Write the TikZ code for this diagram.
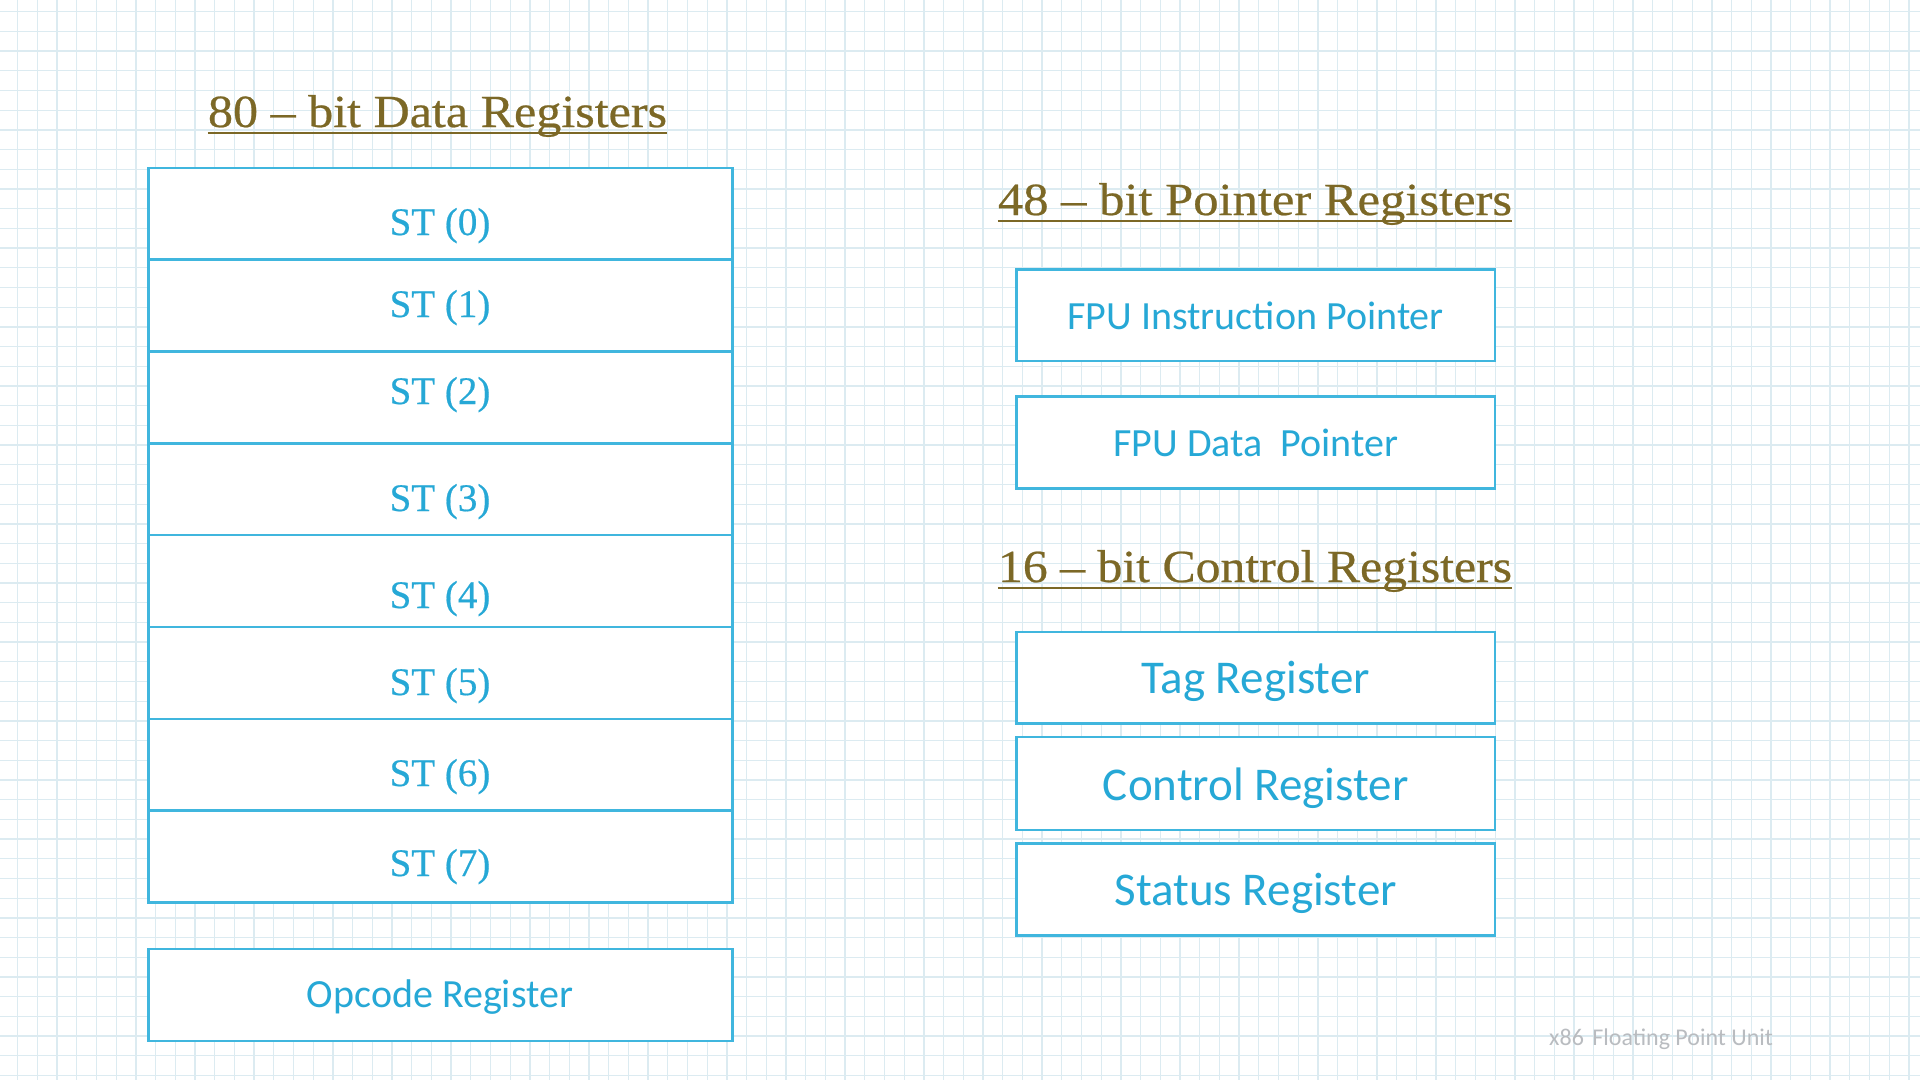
\documentclass[tikz,border=0pt]{standalone}
\usepackage{fontspec}
\usepackage{graphicx}
\setmainfont{Liberation Serif}
\newfontfamily\heavyserif{Liberation Serif}[FakeBold=0.5,Ligatures=TeX]
\newfontfamily\calib{Carlito}
\definecolor{gridc}{RGB}{220,235,241}
\definecolor{boxc}{RGB}{64,182,222}
\definecolor{txtc}{RGB}{38,168,214}
\definecolor{titc}{RGB}{124,104,38}
\definecolor{footc}{RGB}{185,188,192}
\begin{document}
\begin{tikzpicture}[x=1pt,y=-1pt,
  regbox/.style={draw=boxc, line width=2.5pt, fill=white, inner sep=0pt, minimum width=584pt, minimum height=91.8pt},
  rbox/.style={draw=boxc, line width=2.5pt, fill=white, inner sep=0pt, minimum width=478.8pt, minimum height=91.8pt},
  stlab/.style={anchor=base, inner sep=0pt, text=txtc, font=\heavyserif\fontsize{39}{44}\selectfont},
  biglab/.style={anchor=base, inner sep=0pt, text=txtc, font=\calib\fontsize{47}{52}\selectfont},
  smlab/.style={anchor=base, inner sep=0pt, text=txtc, font=\calib\fontsize{40}{46}\selectfont},
  ttl/.style={anchor=base, inner sep=0pt, text=titc, font=\heavyserif\fontsize{46}{52}\selectfont},
  uline/.style={draw=titc, line width=2.5pt},
  gline/.style={draw=gridc, line width=1.3pt}]
\useasboundingbox (0,0) rectangle (1920,1080);
\fill[white] (0,0) rectangle (1920,1080);
% grid paper
\foreach \k in {0,...,96} {\draw[gline] ({17.7+19.7*\k},0) -- ({17.7+19.7*\k},1080);}
\foreach \k in {0,...,54} {\draw[gline] (0,{11.7+19.7*\k}) -- (1920,{11.7+19.7*\k});}

% titles
\node[ttl] (t80) at (437.5,127) {\resizebox{459pt}{\height}{80 – bit Data Registers}};
\draw[uline] ([yshift=-6pt]t80.base west) -- ([yshift=-6pt]t80.base east);
\node[ttl] (t48) at (1255,215) {\resizebox{514pt}{\height}{48 – bit Pointer Registers}};
\draw[uline] ([yshift=-6pt]t48.base west) -- ([yshift=-6pt]t48.base east);
\node[ttl] (t16) at (1255,582) {\resizebox{514pt}{\height}{16 – bit Control Registers}};
\draw[uline] ([yshift=-6pt]t16.base west) -- ([yshift=-6pt]t16.base east);

% data register stack
\node[regbox] (st0) at (440.25,213.7) {};
\node[regbox] (st1) at (440.25,305.5) {};
\node[regbox] (st2) at (440.25,397.4) {};
\node[regbox] (st3) at (440.25,489.2) {};
\node[regbox] (st4) at (440.25,581.0) {};
\node[regbox] (st5) at (440.25,672.9) {};
\node[regbox] (st6) at (440.25,764.7) {};
\node[regbox] (st7) at (440.25,856.5) {};
\node[stlab] (l0) at (440,235) {ST (0)};
\node[stlab] (l1) at (440,317) {ST (1)};
\node[stlab] (l2) at (440,404) {ST (2)};
\node[stlab] (l3) at (440,511) {ST (3)};
\node[stlab] (l4) at (440,608) {ST (4)};
\node[stlab] (l5) at (440,695) {ST (5)};
\node[stlab] (l6) at (440,786) {ST (6)};
\node[stlab] (l7) at (440,876) {ST (7)};

% opcode
\node[regbox] (op) at (440.25,994.9) {};
\node[smlab] (opl) at (440,1007) {Opcode Register};

% pointer registers
\node[rbox] (fip) at (1255.7,315.3) {};
\node[smlab] (fipl) at (1255.7,329) {FPU Instruction Pointer};
\node[rbox] (fdp) at (1255.7,442.6) {};
\node[smlab] (fdpl) at (1255.7,456) {FPU Data\hspace{0.45em}Pointer};

% control registers
\node[rbox] (tag) at (1255.7,677.7) {};
\node[biglab] (tagl) at (1255.7,693) {Tag Register};
\node[rbox, minimum height=93pt] (ctl) at (1255.7,783.6) {};
\node[biglab] (ctll) at (1255.7,800) {Control Register};
\node[rbox] (sts) at (1255.7,889.6) {};
\node[biglab] (stsl) at (1255.7,905) {Status Register};

% footer
\node[anchor=base west, inner sep=0pt, text=footc, font=\calib\fontsize{24}{28}\selectfont] (foot) at (1549,1045) {x86\hspace{0.35em}Floating Point Unit};
\end{tikzpicture}
\end{document}
